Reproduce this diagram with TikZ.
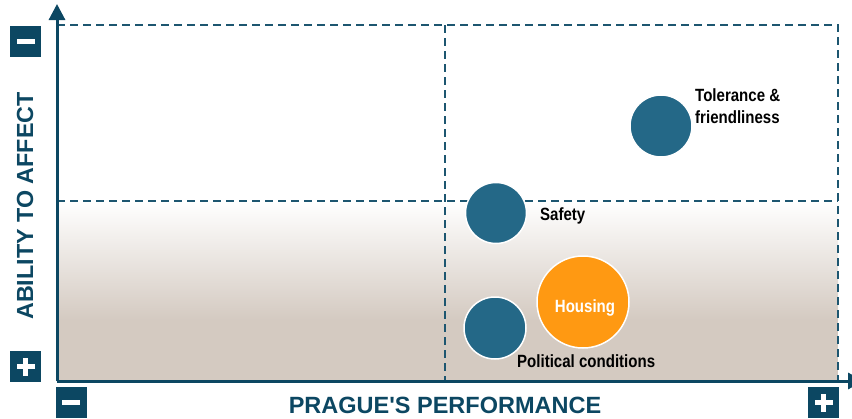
\documentclass[tikz,border=0pt]{standalone}
\usepackage{fontspec}
\setmainfont{Liberation Sans}
\newfontfamily\narrowfont[FakeStretch=0.85]{Liberation Sans}
\usetikzlibrary{arrows.meta}
\definecolor{navy}{HTML}{0C4762}
\definecolor{bubblec}{HTML}{246887}
\definecolor{orangeb}{HTML}{FF9912}
\definecolor{beige}{HTML}{D4CAC1}
\definecolor{gridc}{HTML}{1D5670}
\begin{document}
\begin{tikzpicture}[x=1pt,y=-1pt,
  axisline/.style={navy, line width=3pt},
  gridline/.style={gridc, line width=1.6pt, dash pattern=on 8pt off 5pt},
  bubble/.style={circle, fill=bubblec, draw=white, line width=1.5pt, inner sep=0pt},
  lbl/.style={font=\narrowfont\bfseries\fontsize{17.7}{22}\selectfont, text=black, align=left, inner sep=0pt},
  signbox/.style={fill=navy, minimum size=31pt, inner sep=0pt},
  minusbox/.style={signbox, path picture={\fill[white] ([xshift=-9pt,yshift=-2.6pt]path picture bounding box.center) rectangle ([xshift=9pt,yshift=2.6pt]path picture bounding box.center);}},
  plusbox/.style={signbox, path picture={\fill[white] ([xshift=-9pt,yshift=-2.6pt]path picture bounding box.center) rectangle ([xshift=9pt,yshift=2.6pt]path picture bounding box.center);
     \fill[white] ([xshift=-2.6pt,yshift=-9pt]path picture bounding box.center) rectangle ([xshift=2.6pt,yshift=9pt]path picture bounding box.center);}},
  axislabel/.style={font=\bfseries, text=navy, inner sep=0pt}
]
\useasboundingbox (0,0) rectangle (852,418);
% shaded lower band
\shade[top color=white, bottom color=beige] (57,201) rectangle (838,320);
\fill[beige] (57,319.5) rectangle (838,381);
% grid coordinates
\coordinate (O) at (57,381);
\coordinate (ytip) at (57,4);
\coordinate (xtip) at (864,381);
\coordinate (tl) at (57,25);
\coordinate (tr) at (838,25);
\coordinate (br) at (838,381);
\coordinate (ml) at (57,201);
\coordinate (mr) at (838,201);
\coordinate (mt) at (445,25);
\coordinate (mb) at (445,381);
% dashed grid
\draw[gridline] (tl) -- (tr) -- (br);
\draw[gridline] (ml) -- (mr);
\draw[gridline] (mt) -- (mb);
% axes
\draw[axisline, -{Triangle[width=16pt,length=16pt]}] (O) -- (ytip);
\draw[axisline, -{Triangle[width=16pt,length=16pt]}] (O) -- (xtip);
% sign boxes
\node[minusbox] (ymin) at (25.5,41.5) {};
\node[plusbox] (yplus) at (25.5,366.5) {};
\node[minusbox] (xmin) at (71,402.5) {};
\node[plusbox] (xplus) at (823.5,402.5) {};
% axis labels
\node[axislabel, font=\bfseries\fontsize{23.3}{26}\selectfont, rotate=90, anchor=base] (ylab) at (33,206) {ABILITY TO AFFECT};
\node[axislabel, font=\bfseries\fontsize{23.5}{28}\selectfont, anchor=base] (xlab) at (445,413) {PRAGUE\textquotesingle S PERFORMANCE};
% bubbles
\node[bubble, minimum size=61pt] (safety) at (496,213) {};
\node[bubble, minimum size=62pt] (political) at (495,328) {};
\node[bubble, fill=orangeb, minimum size=92pt] (housing) at (583,302) {};
\node[bubble, minimum size=62pt] (tolerance) at (661,126) {};
% labels
\node[lbl, anchor=base west] (safetyl) at (540,220) {Safety};
\node[lbl, anchor=base west] (politicall) at (517,367) {Political conditions};
\node[lbl, anchor=base, text=white] (housingl) at (585,312) {Housing};
\node[lbl, anchor=base west] (tolerancel) at (695,123) {Tolerance \&\\friendliness};
\end{tikzpicture}
\end{document}
